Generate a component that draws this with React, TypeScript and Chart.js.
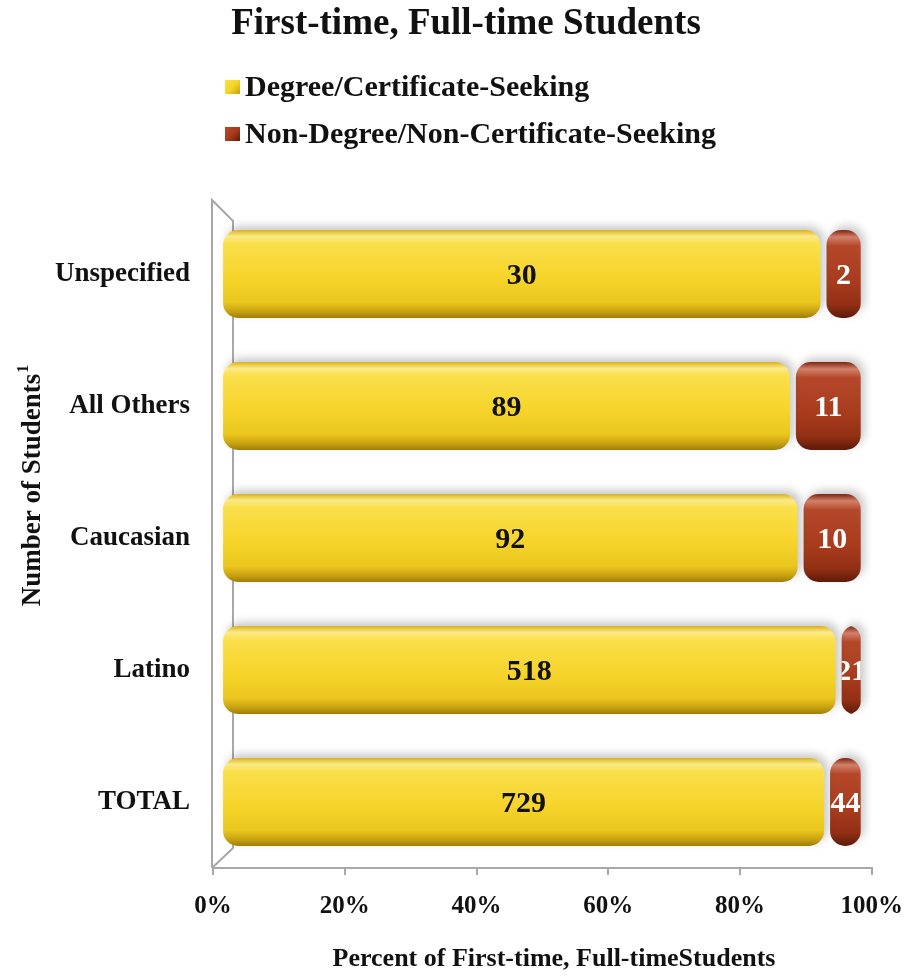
import React, { useEffect, useRef } from "react";
import { Chart, registerables } from "chart.js";

Chart.register(...registerables);

const categories = ["Unspecified", "All Others", "Caucasian", "Latino", "TOTAL"];
const degreeSeeking = [30, 89, 92, 518, 729];
const nonDegreeSeeking = [2, 11, 10, 21, 44];
const seriesNames = ["Degree/Certificate-Seeking", "Non-Degree/Non-Certificate-Seeking"];
const titleText = "First-time, Full-time Students";
const xAxisTitle = "Percent of First-time, Full-timeStudents";
const yAxisTitle = "Number of Students";
const yAxisTitleSup = "1";
const xTickStep = 20;

const FONT = "'Liberation Serif', 'DejaVu Serif', serif";
const BAR_THICKNESS = 94;
const INFLATE = -3;

const yellowStops: [number, string][] = [
  [0, "#d9b214"],
  [0.07, "#fbe98a"],
  [0.16, "#fadf4a"],
  [0.55, "#f6d42a"],
  [0.82, "#eac61e"],
  [0.93, "#c7a00f"],
  [1, "#9c7d0a"],
];
const redStops: [number, string][] = [
  [0, "#7e2410"],
  [0.08, "#d2816a"],
  [0.18, "#b5482a"],
  [0.6, "#a83b1c"],
  [0.85, "#922f14"],
  [1, "#5e1a08"],
];

const total = degreeSeeking.map((v, i) => v + nonDegreeSeeking[i]);
const pctDegree = degreeSeeking.map((v, i) => (v / total[i]) * 100);
const pctNonDegree = nonDegreeSeeking.map((v, i) => (v / total[i]) * 100);
const countsBySeries = [degreeSeeking, nonDegreeSeeking];

function gradientFor(stops: [number, string][]) {
  return (ctx: any) => {
    const chart = ctx.chart;
    if (!chart.chartArea || ctx.dataIndex === undefined) return stops[3][1];
    const yScale = chart.scales.y;
    const cy = yScale.getPixelForValue(ctx.dataIndex);
    const half = BAR_THICKNESS / 2 + INFLATE;
    const g = chart.ctx.createLinearGradient(0, cy - half, 0, cy + half);
    stops.forEach(([o, c]) => g.addColorStop(o, c));
    return g;
  };
}

const decorPlugin = {
  id: "decor",
  beforeDatasetsDraw(chart: any) {
    const { ctx, chartArea } = chart;
    const { left, top, bottom } = chartArea;
    ctx.save();
    ctx.strokeStyle = "#a8a8a8";
    ctx.lineWidth = 2;
    ctx.beginPath();
    ctx.moveTo(left - 1, bottom);
    ctx.lineTo(left - 1, top - 8);
    ctx.lineTo(left + 20, top + 13);
    ctx.lineTo(left + 20, bottom - 20);
    ctx.lineTo(left - 1, bottom);
    ctx.stroke();
    ctx.restore();
    ctx.save();
    ctx.shadowColor = "rgba(60,60,60,0.28)";
    ctx.shadowBlur = 8;
    ctx.shadowOffsetX = 4;
    ctx.shadowOffsetY = -4;
  },
  afterDatasetsDraw(chart: any) {
    const { ctx } = chart;
    ctx.restore();
    ctx.save();
    ctx.font = `bold 30px ${FONT}`;
    ctx.textAlign = "center";
    ctx.textBaseline = "middle";
    chart.data.datasets.forEach((ds: any, di: number) => {
      const meta = chart.getDatasetMeta(di);
      meta.data.forEach((el: any, i: number) => {
        const { x, base, y } = el.getProps(["x", "base", "y"], true);
        const l = Math.min(x, base) - INFLATE;
        const r = Math.max(x, base) + INFLATE;
        ctx.save();
        ctx.beginPath();
        ctx.rect(l, y - 50, r - l, 100);
        ctx.clip();
        ctx.fillStyle = di === 0 ? "#111111" : "#ffffff";
        ctx.fillText(String(countsBySeries[di][i]), (l + r) / 2, y + 2);
        ctx.restore();
      });
    });
    ctx.restore();
  },
  afterDraw(chart: any) {
    const { ctx } = chart;
    ctx.save();
    ctx.fillStyle = "#111111";
    ctx.textBaseline = "middle";
    ctx.textAlign = "center";
    ctx.font = `bold 37px ${FONT}`;
    ctx.fillText(titleText, 466, 24);

    // axis titles
    ctx.font = `bold 26px ${FONT}`;
    ctx.fillText(xAxisTitle, 554, 959);
    ctx.save();
    ctx.translate(33, 486);
    ctx.rotate(-Math.PI / 2);
    ctx.font = `bold 27px ${FONT}`;
    const mainW = ctx.measureText(yAxisTitle).width;
    ctx.font = `bold 16px ${FONT}`;
    const supW = ctx.measureText(yAxisTitleSup).width;
    const startX = -(mainW + supW) / 2;
    ctx.textAlign = "left";
    ctx.font = `bold 27px ${FONT}`;
    ctx.fillText(yAxisTitle, startX, 0);
    ctx.font = `bold 16px ${FONT}`;
    ctx.fillText(yAxisTitleSup, startX + mainW + 1, -9);
    ctx.restore();

    // legend
    ctx.textAlign = "left";
    ctx.font = `bold 30px ${FONT}`;
    const rows = [87, 134];
    const stopsList = [yellowStops, redStops];
    seriesNames.forEach((name, i) => {
      const cy = rows[i];
      const g = ctx.createLinearGradient(225, cy - 7, 240, cy + 7);
      g.addColorStop(0, stopsList[i][2][1]);
      g.addColorStop(0.5, stopsList[i][3][1]);
      g.addColorStop(1, stopsList[i][5][1]);
      ctx.fillStyle = g;
      ctx.fillRect(225, cy - 7, 15, 14);
      ctx.fillStyle = "#111111";
      ctx.fillText(name, 245, cy + 1);
    });
    ctx.restore();
  },
};

export default function App() {
  const canvasRef = useRef<HTMLCanvasElement | null>(null);

  useEffect(() => {
    if (!canvasRef.current) return;
    const chart = new Chart(canvasRef.current, {
      type: "bar",
      data: {
        labels: categories,
        datasets: [
          {
            label: seriesNames[0],
            data: pctDegree,
            xAxisID: "xBar",
            yAxisID: "y",
            backgroundColor: gradientFor(yellowStops) as any,
            borderWidth: 0,
            borderSkipped: false,
            borderRadius: { topLeft: 15, topRight: 15, bottomLeft: 15, bottomRight: 15 },
            inflateAmount: INFLATE,
            barThickness: BAR_THICKNESS,
          } as any,
          {
            label: seriesNames[1],
            data: pctNonDegree,
            xAxisID: "xBar",
            yAxisID: "y",
            backgroundColor: gradientFor(redStops) as any,
            borderWidth: 0,
            borderSkipped: false,
            borderRadius: { topLeft: 15, topRight: 15, bottomLeft: 15, bottomRight: 15 },
            inflateAmount: INFLATE,
            barThickness: BAR_THICKNESS,
          } as any,
        ],
      },
      options: {
        indexAxis: "y",
        responsive: false,
        maintainAspectRatio: false,
        animation: false,
        layout: { padding: { top: 208, right: 47, left: 0, bottom: 0 } },
        plugins: {
          legend: { display: false },
          title: { display: false },
          tooltip: { enabled: false },
        },
        scales: {
          x: {
            type: "linear",
            position: "bottom",
            min: 0,
            max: 100,
            ticks: {
              stepSize: xTickStep,
              callback: (v: any) => `${v}%`,
              color: "#111111",
              font: { family: FONT, size: 25, weight: "bold" },
              padding: 17,
              maxRotation: 0,
            },
            grid: {
              drawOnChartArea: false,
              drawTicks: true,
              tickLength: 7,
              color: "#a8a8a8",
              lineWidth: 2,
            },
            border: { display: true, color: "#a8a8a8", width: 2 },
            afterFit: (s: any) => {
              s.height = 110;
            },
          },
          xBar: {
            type: "linear",
            display: false,
            stacked: true,
            min: -1.1,
            max: 101.25,
          },
          y: {
            type: "category",
            stacked: true,
            grid: { display: false },
            border: { display: false },
            ticks: {
              color: "#111111",
              font: { family: FONT, size: 27, weight: "bold" },
              padding: 15,
            },
            afterFit: (s: any) => {
              s.width = 213;
            },
          },
        },
      } as any,
      plugins: [decorPlugin],
    });
    return () => chart.destroy();
  }, []);

  return (
    <div style={{ position: "fixed", left: 0, top: 0, width: 920, height: 978, background: "#ffffff" }}>
      <canvas ref={canvasRef} width={920} height={978} style={{ width: 920, height: 978, display: "block" }} />
    </div>
  );
}
